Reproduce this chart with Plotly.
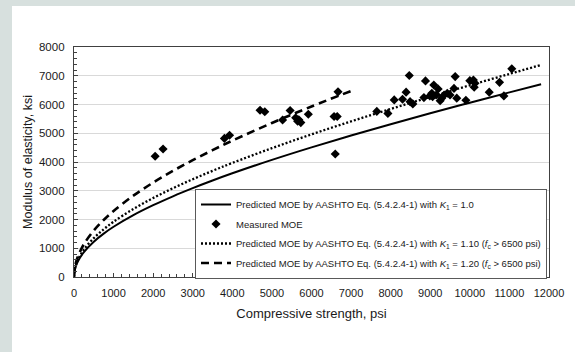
import plotly.graph_objects as go

# Compressive strength (psi) samples for the predicted curves
curve_x = [0, 20, 50, 100, 250, 500, 750, 1000, 1500, 2000, 2500, 3000, 3500, 4000,
           5000, 6000, 7000, 8000, 9000, 10000, 11000, 11800]
moe_k100 = [0, 244, 387, 547, 867, 1229, 1509, 1747, 2151, 2497, 2807, 3091, 3356, 3607,
            4074, 4510, 4921, 5314, 5694, 6062, 6422, 6705]
moe_k110 = [0, 268, 426, 602, 954, 1352, 1660, 1922, 2366, 2747, 3088, 3400, 3692, 3968,
            4481, 4961, 5413, 5845, 6263, 6668, 7064, 7376]
dash_x = [0, 20, 50, 100, 250, 500, 750, 1000, 1500, 2000, 2500, 3000, 3500, 4000,
          5000, 6000, 7000]
moe_k120 = [0, 321, 509, 719, 1140, 1616, 1984, 2297, 2829, 3284, 3691, 4065, 4413, 4743,
            5357, 5931, 6471]

# Measured MOE points
meas_x = [2050, 2250, 3800, 3930, 4700, 4820, 5270, 5460, 5600, 5680, 5730, 5650, 5920,
          6570, 6650, 6600, 6670,
          7650, 7930, 8090, 8300, 8390, 8470, 8490, 8560, 8840, 8880, 8990, 9040, 9090,
          9060, 9150, 9200, 9250, 9290, 9350, 9430, 9500, 9600, 9630, 9670, 9900, 10000,
          10090, 10130, 10110, 10490, 10750, 10860, 11060]
meas_y = [4200, 4450, 4820, 4930, 5800, 5750, 5460, 5790, 5540, 5470, 5370, 5420, 5660,
          5580, 5580, 4280, 6440,
          5760, 5690, 6160, 6180, 6430, 7010, 6100, 6020, 6240, 6820, 6300, 6390, 6680,
          6270, 6330, 6540, 6130, 6220, 6330, 6390, 6330, 6560, 6970, 6220, 6150, 6830,
          6850, 6740, 6600, 6430, 6770, 6300, 7240]

x_ticks = [0, 1000, 2000, 3000, 4000, 5000, 6000, 7000, 8000, 9000, 10000, 11000, 12000]
x_tick_text = [str(v) for v in x_ticks]
y_ticks = [0, 1000, 2000, 3000, 4000, 5000, 6000, 7000, 8000]
y_tick_text = [str(v) for v in y_ticks]

W, H = 575, 352
L, R, T, B = 74, 26, 47, 75
pw, ph = W - L - R, H - T - B

def px_x(p):
    return (p - L) / pw

def px_y(p):
    return (H - B - p) / ph

font = "Arial, Liberation Sans, sans-serif"

fig = go.Figure()
fig.add_trace(go.Scatter(
    x=curve_x, y=moe_k100, mode="lines", line=dict(color="black", width=2, shape="spline"),
    name="Predicted MOE by AASHTO Eq. (5.4.2.4-1) with <i>K</i><sub>1</sub> = 1.0",
    legendgroup="a"))
fig.add_trace(go.Scatter(
    x=meas_x, y=meas_y, mode="markers",
    marker=dict(symbol="diamond", size=7, color="black"),
    name="Measured MOE", legendgroup="b"))
fig.add_trace(go.Scatter(
    x=curve_x, y=moe_k110, mode="lines",
    line=dict(color="black", width=2.3, dash="2px,2px", shape="spline"),
    name="Predicted MOE by AASHTO Eq. (5.4.2.4-1) with <i>K</i><sub>1</sub> = 1.10 (<i>f</i><sub>c</sub> > 6500 psi)",
    legendgroup="c"))
fig.add_trace(go.Scatter(
    x=dash_x, y=moe_k120, mode="lines",
    line=dict(color="black", width=2.6, dash="8px,5px", shape="spline"),
    name="Predicted MOE by AASHTO Eq. (5.4.2.4-1) with <i>K</i><sub>1</sub> = 1.20 (<i>f</i><sub>c</sub> > 6500 psi)",
    legendgroup="d"))

fig.update_layout(
    width=W, height=H,
    margin=dict(l=L, r=R, t=T, b=B),
    paper_bgcolor="#d7e0de",
    plot_bgcolor="white",
    font=dict(family=font, color="#1a1a1a", size=11),
    showlegend=True,
    legend=dict(
        x=px_x(195), y=px_y(189), xanchor="left", yanchor="top",
        bgcolor="white", bordercolor="#595959", borderwidth=1,
        font=dict(family=font, size=9.5, color="#1a1a1a"),
        tracegroupgap=0.5,
    ),
    shapes=[dict(type="rect", xref="paper", yref="paper",
                 x0=px_x(12), x1=px_x(W + 5), y0=px_y(6), y1=px_y(H + 5),
                 fillcolor="white", line=dict(width=0), layer="below")],
)
fig.update_xaxes(
    range=[0, 12000], tickvals=x_ticks, ticktext=x_tick_text,
    showgrid=False, zeroline=False,
    showline=True, linecolor="#404040", linewidth=1.3, mirror=True,
    ticks="inside", ticklen=4, tickcolor="#404040",
    minor=dict(dtick=200, ticks="inside", ticklen=3, tickcolor="#404040", showgrid=False),
    tickfont=dict(size=11),
    ticklabelstandoff=6,
    title=dict(text="Compressive strength, psi", font=dict(size=13), standoff=10),
)
fig.update_yaxes(
    range=[0, 8000], tickvals=y_ticks, ticktext=y_tick_text,
    showgrid=True, gridcolor="#d9d9d9", gridwidth=1, zeroline=False,
    showline=True, linecolor="#404040", linewidth=1.3, mirror=True,
    ticks="inside", ticklen=4, tickcolor="#404040",
    minor=dict(dtick=200, ticks="inside", ticklen=3, tickcolor="#404040", showgrid=False),
    tickfont=dict(size=11.5),
    ticklabelstandoff=6,
    title=dict(text="Modulus of elasticity, ksi", font=dict(size=12.5), standoff=3),
)

fig.write_html("out.html")
